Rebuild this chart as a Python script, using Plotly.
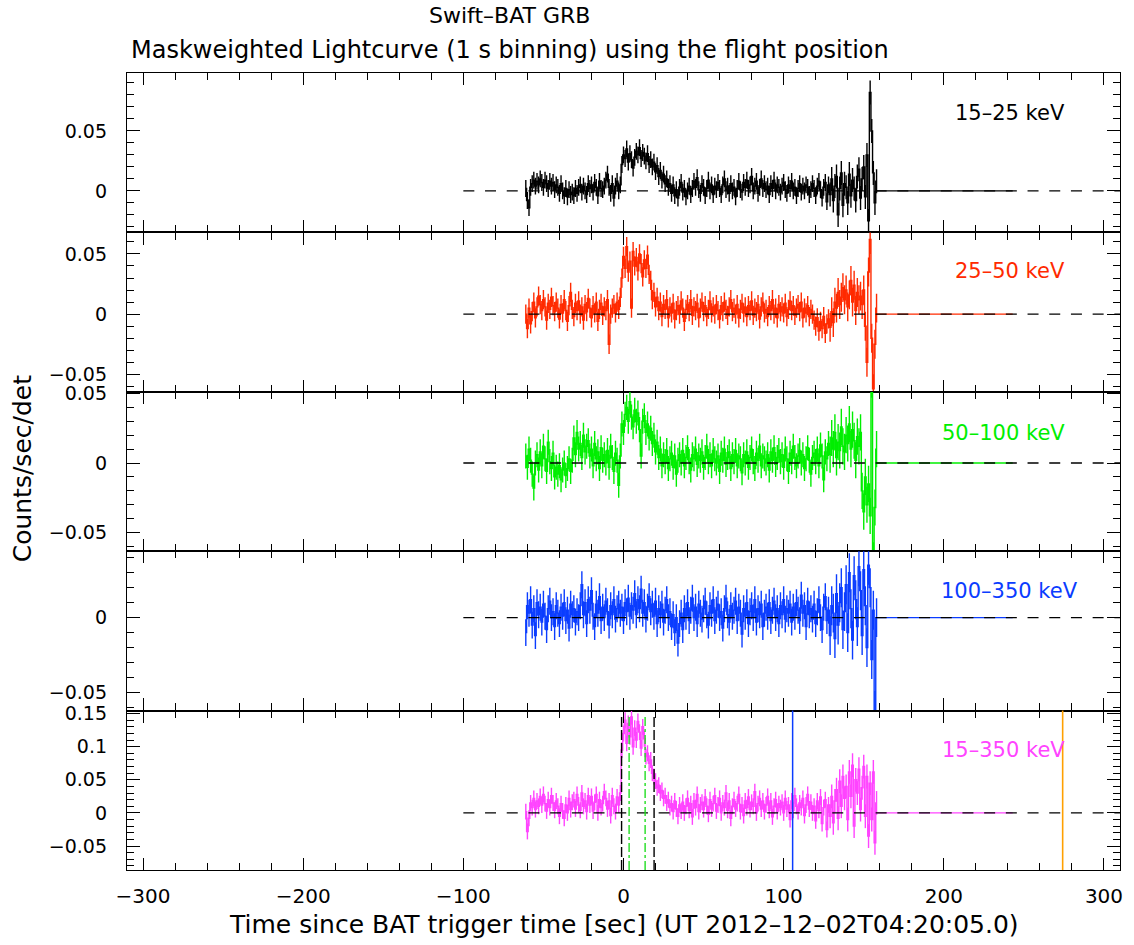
import numpy as np
import plotly.graph_objects as go
from plotly.subplots import make_subplots

# ---------------- data (count rates in units of 0.001 counts/sec/det) ----------------
T_START = -61          # first 1-s bin
TAIL_END = 243         # end of the (empty, zero) part of the light curve
ZERO_LINE_START = -100
SCALE = 0.001

BANDS = ["15–25 keV", "25–50 keV", "50–100 keV", "100–350 keV", "15–350 keV"]

RATE_15_25 = [
    2, -8, -14, 3, 6, 9, 4, 8, 5, 10,
    7, 3, 9, 6, 2, 8, 4, 7, 1, 5,
    3, -2, 6, 0, -4, 2, -5, 1, -3, -1,
    -4, 2, -2, 3, 5, -1, 4, 0, -3, 6,
    2, 5, -1, 7, 3, -4, 8, 2, 1, 4,
    9, 14, 3, -2, 6, -6, 4, 8, 0, 5,
    22, 30, 27, 35, 24, 31, 26, 19, 28, 33,
    30, 36, 27, 32, 29, 25, 31, 22, 26, 20,
    24, 16, 21, 12, 17, 9, 14, 6, 10, 3,
    6, -2, 5, -4, 1, -6, 3, 7, -1, 2,
    -5, 0, 4, -3, 2, 8, 3, 11, 1, -2,
    6, 3, -4, 2, 9, 0, 5, -3, 4, 1,
    7, 2, -3, 5, 10, 1, 4, -2, 6, 0,
    3, -5, 2, 8, 1, -1, 7, 3, 9, 2,
    5, 12, 0, 4, 8, -2, 3, 10, 2, 6,
    1, 4, -3, 6, 2, 9, 0, 5, 3, -1,
    4, 7, 1, -2, 5, 2, 8, 0, 3, -4,
    2, 6, -1, 4, 0, 5, 3, -3, 1, 6,
    2, -4, 4, 8, 1, -6, 3, 7, -9, 5,
    -3, 10, -8, 4, 12, -20, 2, 15, -12, 6,
    3, -10, 14, -4, 9, 2, -8, 12, 18, -6,
    10, 20, -5, 30, -25, 82, 50, 15, -10, 8,
]

RATE_25_50 = [
    0, -12, 5, -8, 2, 10, -3, 6, 15, 8,
    3, 12, 6, -5, 9, 4, 14, 7, 2, 10,
    5, -4, 8, 1, 12, 3, -6, 7, 18, 4,
    -2, 9, 3, 11, 0, 6, -5, 8, 2, 13,
    5, -3, 7, 1, 10, -6, 4, 9, -1, 6,
    3, 12, -25, 0, 5, 8, 1, 10, 4, 14,
    30, 48, 38, 56, 35, 44, 5, 52, 40, 47,
    36, 50, 42, 31, 45, 38, 49, 33, 28, 12,
    18, 6, 14, 3, 10, -2, 8, 4, 12, -3,
    6, 1, 9, -4, 3, 7, 0, 11, 5, -6,
    4, 8, 2, 12, -1, 6, 3, 9, -3, 5,
    10, 2, 7, -2, 4, 11, 1, 6, 0, 8,
    3, -4, 7, 2, 10, 4, -1, 6, 12, 2,
    5, 0, 8, -3, 4, 9, 1, 6, -2, 7,
    3, 11, -1, 5, 2, 8, -4, 6, 10, 1,
    4, -2, 7, 3, 12, 0, 5, -3, 8, 2,
    6, 1, 9, -2, 4, 11, 3, 7, -1, 5,
    8, 2, 10, -3, 5, 1, 7, -2, 4, 0,
    -5, -10, -3, -14, -6, -12, -2, -16, -8, -4,
    -11, 2, -7, 10, 5, 18, 8, 14, 22, 12,
    20, 6, 16, 28, 10, 24, 3, 18, 12, 15,
    8, 20, -10, -40, 35, 62, -20, -62, -25, 5,
]

RATE_50_100 = [
    5, -3, 10, 2, -8, -18, 0, 6, -5, 8,
    -2, 12, 3, -6, 15, 1, -4, 7, -10, -3,
    -8, -2, -12, -5, 0, -9, -4, 3, -6, 2,
    18, 6, 22, 10, 14, 4, 20, 8, 12, 16,
    5, 10, -2, 14, 3, 8, -4, 11, 2, 6,
    0, 9, -3, 12, 4, -6, 7, 2, -16, 5,
    28, 22, 35, 40, 30, 44, 33, 26, 38, 30,
    36, 24, 5, 30, 34, 22, 28, 18, 25, 14,
    20, 8, 15, 4, 10, -2, 6, 1, 9, -4,
    3, 7, -3, 5, -8, 2, 6, 0, 9, -2,
    4, 11, 1, -5, 6, 3, 10, -1, 5, 2,
    8, -3, 4, 12, 1, 6, -2, 9, 3, 0,
    5, -6, 7, 2, 10, -1, 4, 8, -4, 6,
    1, 9, -2, 5, 3, -7, 6, 0, 8, -3,
    4, 10, 1, -4, 7, 2, 12, -2, 5, 3,
    0, 6, -5, 8, 2, 11, -1, 4, 9, 1,
    6, -3, 10, 3, -6, 7, 1, 12, 4, -2,
    5, 9, 0, 6, -4, 3, 11, 2, -8, 4,
    7, 1, 10, -2, 13, 5, -12, 8, 3, 14,
    6, 18, 10, 22, 4, 15, 9, 26, 12, 8,
    20, 14, 28, 10, 24, 16, 2, 19, 12, 22,
    -20, -35, -10, -30, -15, -38, 60, -70, -32, 10,
]

RATE_100_350 = [
    -10, 8, 3, 12, -5, 6, -12, 10, 2, 7,
    -3, 9, 1, -8, 6, 11, 0, 4, -6, 8,
    3, -4, 7, 1, 10, -2, 5, -7, 9, 2,
    6, -3, 4, 0, 8, 22, 2, 10, -4, 12,
    5, 18, 1, -6, 9, 3, 14, -2, 7, 0,
    11, 4, -5, 8, 2, 12, -1, 6, 9, 3,
    7, -2, 10, 4, 13, 1, 8, 5, 16, 2,
    12, 6, 19, 3, 10, -1, 7, 14, 4, 9,
    1, 11, -4, 6, 2, 9, -3, 5, 12, 0,
    4, -6, 2, -10, 0, -17, -4, 3, -8, 6,
    1, 10, -2, 5, 13, 0, 7, -4, 9, 3,
    -1, 6, 11, 2, -5, 8, 3, 12, -2, 5,
    9, 0, 4, -7, 6, 13, 2, -3, 8, 1,
    5, 11, -2, 7, 3, -11, 6, 1, 10, -4,
    4, 8, 0, 12, -3, 6, 2, 9, -6, 3,
    7, 1, 10, -2, 5, 11, 0, 6, -4, 8,
    2, 12, -1, 6, 3, 9, -3, 7, 1, 10,
    5, -2, 15, 3, 8, -6, 11, 2, 6, -1,
    9, -4, 4, 12, 0, -8, 7, 14, -2, 5,
    -12, 8, 3, -14, 16, -5, 10, 20, -8, 4,
    22, -10, 30, 6, -15, 28, 12, -6, 34, 18,
    -12, 32, 8, -20, 35, 20, -28, 5, -62, 0,
]

RATE_15_350 = [
    2, -28, -8, 15, 8, 22, 5, 18, 10, 25,
    12, 28, 14, 3, 20, 8, 26, 15, 4, 18,
    10, -5, 14, 3, -8, 12, 0, 22, 5, 16,
    20, 6, 28, 12, 4, 30, 10, 18, 2, 26,
    12, 25, 3, 16, 28, 0, 20, 8, 14, 32,
    22, 6, 18, -4, 26, 10, 2, 24, 12, 30,
    95, 120, 140, 105, 135, 115, 145, 100, 128, 110,
    138, 122, 98, 130, 112, 85, 90, 75, 80, 60,
    55, 48, 38, 42, 30, 34, 22, 26, 15, 20,
    8, 14, 2, 18, 6, -5, 12, 3, 16, 0,
    10, 22, 4, 14, -6, 18, 8, 28, 2, 12,
    16, 5, 24, 10, -2, 20, 6, 14, 26, 3,
    12, 22, 0, 15, 8, 30, 4, 18, -8, 10,
    20, 6, 14, 28, 2, 12, -4, 18, 8, 24,
    5, 16, 10, 32, 0, 14, 22, 6, 18, 2,
    12, 25, 4, 18, -6, 10, 20, 2, 14, 8,
    16, 0, 22, 6, 12, -10, 18, 4, 26, 10,
    2, 15, 8, 22, -4, 12, 28, 6, 16, 0,
    10, -12, 18, 4, 24, -16, 8, 20, -25, 12,
    -5, 25, -15, 18, 35, -8, 48, 10, 55, 22,
    40, -10, 62, 25, 72, -20, 50, 30, 66, 5,
    38, 70, -5, 55, -35, 45, -10, 62, -45, 15,
]

# 1-sigma errors (same units): (before LATE_FROM, from LATE_FROM on)
LATE_FROM = 129
ERRORS = [(7, 10), (8, 12), (9, 13), (9, 13), (12, 18)]

RATES = [RATE_15_25, RATE_25_50, RATE_50_100, RATE_100_350, RATE_15_350]

# axis ranges
Y_RANGES = [(-0.0346, 0.0983), (-0.0645, 0.0679), (-0.0634, 0.0512),
            (-0.062, 0.0443), (-0.0862, 0.1545)]
X_RANGE = (-310, 310)

# time markers in the bottom panel
T100_EDGES = [-1.2, 19.1]
T90_EDGES = [3.5, 13.5]
BLUE_MARK = [105.6]
ORANGE_MARK = [274.2]

# ---------------- styling ----------------
COLORS = ["#000000", "#ff2a00", "#00ee00", "#0a3cff", "#ff44ff"]
FONT = "DejaVu Sans"
W, H = 1134, 945
ML, MT = 127, 73
MR = W - 1123
MB = H - 870
PW, PH = W - ML - MR, H - MT - MB


def px_x(px):
    """screen pixel -> paper x"""
    return (px - ML) / PW


def px_y(py):
    """screen pixel -> paper y"""
    return (H - MB - py) / PH


fig = make_subplots(rows=5, cols=1, shared_xaxes=True, vertical_spacing=0)

for i, (rate, (e_early, e_late)) in enumerate(zip(RATES, ERRORS)):
    row = i + 1
    n = len(rate)
    t = np.arange(T_START, T_START + n)
    y = np.array(rate) * SCALE
    err = np.where(t < LATE_FROM, e_early, e_late) * SCALE
    col = COLORS[i]
    fig.add_trace(go.Scatter(
        x=t, y=y, mode="lines", line=dict(color=col, width=1.4, shape="hvh"),
        error_y=dict(type="data", array=err, visible=True, color=col,
                     thickness=1.4, width=0),
        showlegend=False, hoverinfo="skip"), row=row, col=1)
    # empty (zero) remainder of the light curve
    fig.add_trace(go.Scatter(
        x=[t[-1], TAIL_END], y=[0, 0], mode="lines",
        line=dict(color=col, width=1.4), showlegend=False, hoverinfo="skip"),
        row=row, col=1)
    # dashed zero level
    fig.add_trace(go.Scatter(
        x=[ZERO_LINE_START, X_RANGE[1]], y=[0, 0], mode="lines",
        line=dict(color="black", width=1.4, dash="11px,10.7px"),
        showlegend=False, hoverinfo="skip"), row=row, col=1)

# vertical markers in the bottom panel
for xv in T100_EDGES:
    fig.add_shape(type="line", xref="x5", yref="y5 domain", x0=xv, x1=xv,
                  y0=0, y1=0.97, line=dict(color="black", width=1.4, dash="10px,3px"))
for xv in T90_EDGES:
    fig.add_shape(type="line", xref="x5", yref="y5 domain", x0=xv, x1=xv,
                  y0=0, y1=0.97, line=dict(color="#22dd22", width=1.4, dash="dashdot"))
for xv in BLUE_MARK:
    fig.add_shape(type="line", xref="x5", yref="y5 domain", x0=xv, x1=xv,
                  y0=0, y1=1, line=dict(color="#0a3cff", width=1.5))
for xv in ORANGE_MARK:
    fig.add_shape(type="line", xref="x5", yref="y5 domain", x0=xv, x1=xv,
                  y0=0, y1=1, line=dict(color="#ffa000", width=1.6))

axis_common = dict(showline=True, linecolor="black", linewidth=1.3, mirror="ticks",
                   ticks="inside", tickcolor="black", tickwidth=1.3,
                   showgrid=False, zeroline=False)

for i in range(5):
    row = i + 1
    fig.update_xaxes(range=list(X_RANGE), dtick=100, tick0=0, ticklen=12,
                     minor=dict(dtick=20, tick0=0, ticklen=7, ticks="inside",
                                tickcolor="black", tickwidth=1.3, showgrid=False),
                     showticklabels=(row == 5), ticklabelstandoff=8,
                     ticklabeloverflow="allow",
                     tickfont=dict(family=FONT, size=20, color="black"),
                     **axis_common, row=row, col=1)
    fig.update_yaxes(range=list(Y_RANGES[i]), dtick=0.05, tick0=0, ticklen=13,
                     minor=dict(dtick=0.01, tick0=0, ticklen=7, ticks="inside",
                                tickcolor="black", tickwidth=1.3, showgrid=False),
                     ticklabelstandoff=15,
                     tickfont=dict(family=FONT, size=19, color="black"),
                     **axis_common, row=row, col=1)

domains = [[0.8, 1.0], [0.6, 0.8], [0.4, 0.6], [0.2, 0.4], [0.0, 0.2]]
for i, d in enumerate(domains):
    fig.layout["yaxis" + ("" if i == 0 else str(i + 1))].domain = d

annotations = []
# band labels
label_pos = [(1070, 113), (1070, 271), (1070, 433), (1083, 591), (1070, 750)]
for (lx, ly), text, col in zip(label_pos, BANDS, COLORS):
    annotations.append(dict(x=px_x(lx), y=px_y(ly), xref="paper", yref="paper",
                            text=text, showarrow=False, xanchor="right", yanchor="middle",
                            font=dict(family=FONT, size=21, color=col)))
# titles
annotations.append(dict(x=px_x(511), y=px_y(16), xref="paper", yref="paper",
                        text="Swift–BAT GRB", showarrow=False, xanchor="center",
                        yanchor="middle", font=dict(family=FONT, size=22, color="black")))
annotations.append(dict(x=px_x(511), y=px_y(50), xref="paper", yref="paper",
                        text="Maskweighted Lightcurve (1 s binning) using the flight position",
                        showarrow=False, xanchor="center", yanchor="middle",
                        font=dict(family=FONT, size=24, color="black")))
annotations.append(dict(x=px_x(625), y=px_y(924), xref="paper", yref="paper",
                        text="Time since BAT trigger time [sec] (UT 2012–12–02T04:20:05.0)",
                        showarrow=False, xanchor="center", yanchor="middle",
                        font=dict(family=FONT, size=25, color="black")))
annotations.append(dict(x=px_x(22), y=px_y(468), xref="paper", yref="paper",
                        text="Counts/sec/det", textangle=-90, showarrow=False,
                        xanchor="center", yanchor="middle",
                        font=dict(family=FONT, size=25, color="black")))

fig.update_layout(width=W, height=H, margin=dict(l=ML, r=MR, t=MT, b=MB),
                  paper_bgcolor="white", plot_bgcolor="white",
                  showlegend=False, annotations=annotations)

fig.write_html("out.html", config={"displayModeBar": False},
               post_script="document.body.style.margin='0px';"
                           "document.body.style.overflow='hidden';")
